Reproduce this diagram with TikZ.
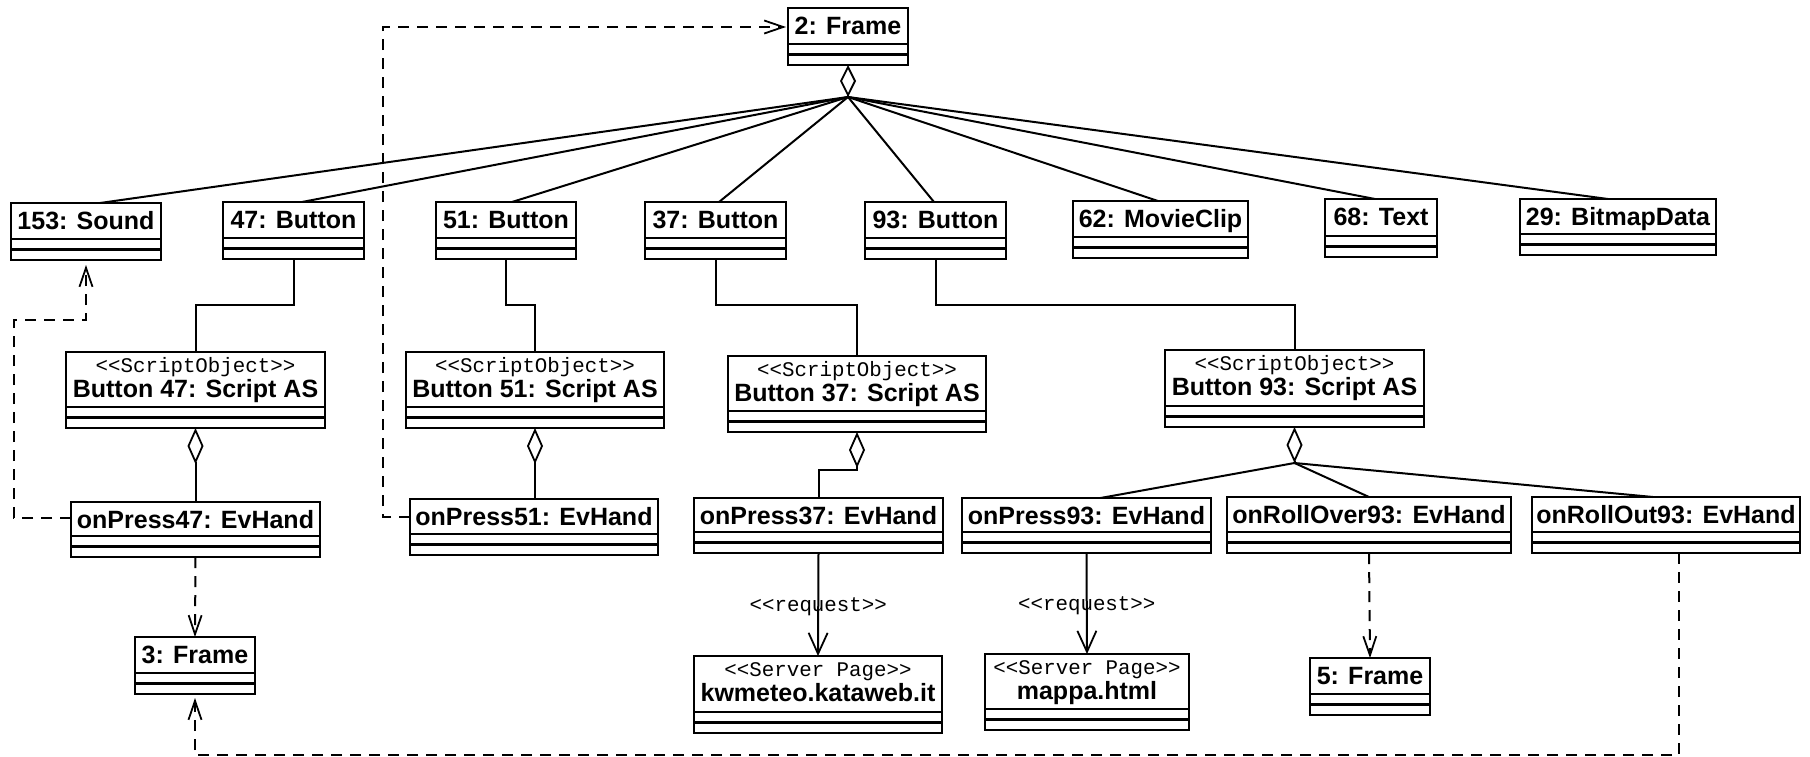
\documentclass[tikz,border=0pt]{standalone}
\usepackage{fontspec}
\setmonofont{Liberation Mono}
\newfontfamily\objsansf{Liberation Sans}
\usetikzlibrary{arrows.meta,fit}
\newcommand\objtitlefont{\objsansf\bfseries\fontsize{25}{30}\selectfont}
\newcommand\objstereofont{\ttfamily\fontsize{20.8}{24}\selectfont}
\tikzset{
  umlobj/.style={draw, line width=2.2pt, inner sep=0pt, outer sep=0pt, rectangle,
    path picture={
      \draw[line width=2.2pt] ([yshift=10.5pt]path picture bounding box.south west) -- ([yshift=10.5pt]path picture bounding box.south east);
      \draw[line width=2.2pt] ([yshift=21pt]path picture bounding box.south west) -- ([yshift=21pt]path picture bounding box.south east);}},
  lbl/.style={anchor=base, inner sep=0pt, outer sep=0pt},
  nm/.style={label={[lbl, yshift=-26pt, font=\objtitlefont]north:{#1}}},
  nmtwo/.style={label={[lbl, yshift=-45pt, font=\objtitlefont]north:{#1}}},
  stereo/.style={label={[lbl, yshift=-20.5pt, font=\objstereofont]north:{#1}}},
  conn/.style={line width=2pt},
  agg/.style={conn, {Diamond[open, length=32pt, width=16pt, line width=1.8pt]}-},
  aggs/.style={conn, {Diamond[open, length=36pt, width=16pt, line width=1.8pt]}-},
  dep/.style={conn, dash pattern=on 11pt off 8pt, -{Straight Barb[length=19pt, width=13pt, line width=1.8pt]}},
  req/.style={conn, -{Straight Barb[length=21pt, width=19pt, line width=1.8pt]}},
  reqlbl/.style={font=\objstereofont, inner sep=0pt, pos=0.52}
}
\begin{document}
\begin{tikzpicture}[x=1pt, y=-1pt]
\useasboundingbox (0,0) rectangle (1810,756);

% top frame
\node[umlobj, nm={2: Frame}, fit={(788,8) (908,65)}] (frame) {};

% first row
\node[umlobj, nm={153: Sound}, fit={(11,203) (161,260)}] (sound) {};
\node[umlobj, nm={47: Button}, fit={(223,202) (364,259)}] (b47) {};
\node[umlobj, nm={51: Button}, fit={(436,202) (576,259)}] (b51) {};
\node[umlobj, nm={37: Button}, fit={(645,202) (786,259)}] (b37) {};
\node[umlobj, nm={93: Button}, fit={(865,202) (1006,259)}] (b93) {};
\node[umlobj, nm={62: MovieClip}, fit={(1073,201) (1248,258)}] (mc62) {};
\node[umlobj, nm={68: Text}, fit={(1325,199) (1437,257)}] (t68) {};
\node[umlobj, nm={29: BitmapData}, fit={(1520,199) (1716,255)}] (bd29) {};

% script objects
\node[umlobj, stereo={<<ScriptObject>>}, nmtwo={Button 47: Script AS}, fit={(66,352) (325,428)}] (s47) {};
\node[umlobj, stereo={<<ScriptObject>>}, nmtwo={Button 51: Script AS}, fit={(406,352) (664,428)}] (s51) {};
\node[umlobj, stereo={<<ScriptObject>>}, nmtwo={Button 37: Script AS}, fit={(728,356) (986,432)}] (s37) {};
\node[umlobj, stereo={<<ScriptObject>>}, nmtwo={Button 93: Script AS}, fit={(1165,350) (1424,427)}] (s93) {};

% event handlers
\node[umlobj, nm={onPress47: EvHand}, fit={(71,502) (320,557)}] (e47) {};
\node[umlobj, nm={onPress51: EvHand}, fit={(410,499) (658,555)}] (e51) {};
\node[umlobj, nm={onPress37: EvHand}, fit={(694,498) (943,553)}] (e37) {};
\node[umlobj, nm={onPress93: EvHand}, fit={(962,498) (1211,553)}] (e93p) {};
\node[umlobj, nm={onRollOver93: EvHand}, fit={(1227,497) (1511,553)}] (e93over) {};
\node[umlobj, nm={onRollOut93: EvHand}, fit={(1532,497) (1800,553)}] (e93out) {};

% bottom row
\node[umlobj, nm={3: Frame}, fit={(135,637) (255,694)}] (f3) {};
\node[umlobj, stereo={<<Server Page>>}, nmtwo={kwmeteo.kataweb.it}, fit={(694,656) (942,733)}] (kw) {};
\node[umlobj, stereo={<<Server Page>>}, nmtwo={mappa.html}, fit={(985,654) (1189,730)}] (mappa) {};
\node[umlobj, nm={5: Frame}, fit={(1310,658) (1430,715)}] (f5) {};

% aggregation from the frame
\coordinate (hub) at ([yshift=-32pt]frame.south);
\draw[agg] (frame.south) -- (hub);
\draw[conn] (hub) -- ([xshift=14pt]sound.north);
\draw[conn] (hub) -- ([xshift=8.5pt]b47.north);
\draw[conn] (hub) -- ([xshift=6pt]b51.north);
\draw[conn] (hub) -- ([xshift=3.5pt]b37.north);
\draw[conn] (hub) -- ([xshift=-1.5pt]b93.north);
\draw[conn] (hub) -- ([xshift=-2.5pt]mc62.north);
\draw[conn] (hub) -- ([xshift=-6pt]t68.north);
\draw[conn] (hub) -- ([xshift=-10pt]bd29.north);

% buttons to scripts
\draw[conn] (b47.south) -- ++(0,46) -| (s47.north);
\draw[conn] (b51.south) -- ++(0,46) -| (s51.north);
\draw[conn] (b37.south) -- ++(0,46) -| (s37.north);
\draw[conn] (b93.south) -- ++(0,46) -| (s93.north);

% scripts to handlers
\draw[aggs] (s47.south) -- (e47.north);
\draw[aggs] (s51.south) -- (s51.south |- e51.north);
\draw[aggs] (s37.south) -- ++(0,38) -| (e37.north);
\coordinate (hub93) at ([yshift=-36pt]s93.south);
\draw[aggs] (s93.south) -- (hub93);
\draw[conn] (hub93) -- ([xshift=14pt]e93p.north);
\draw[conn] (hub93) -- (e93over.north);
\draw[conn] (hub93) -- ([xshift=-13pt]e93out.north);

% dependencies
\draw[dep] ([yshift=11.5pt]e47.west) -| (14,320) -| ([yshift=-5pt]sound.south);
\draw[dep] ([yshift=10pt]e51.west) -| (383,27) -- ([xshift=-2pt,yshift=9.5pt]frame.west);
\draw[dep] (e47.south) -- (f3.north);
\draw[dep] (e93over.south) -- (f5.north);
\draw[dep] ([xshift=13pt]e93out.south) |- ([yshift=-61pt]f3.south) -- ([yshift=-4pt]f3.south);

% requests
\draw[req] (e37.south) -- node[reqlbl] {<<request>>} (kw.north);
\draw[req] (e93p.south) -- node[reqlbl] {<<request>>} (mappa.north);
\end{tikzpicture}
\end{document}
